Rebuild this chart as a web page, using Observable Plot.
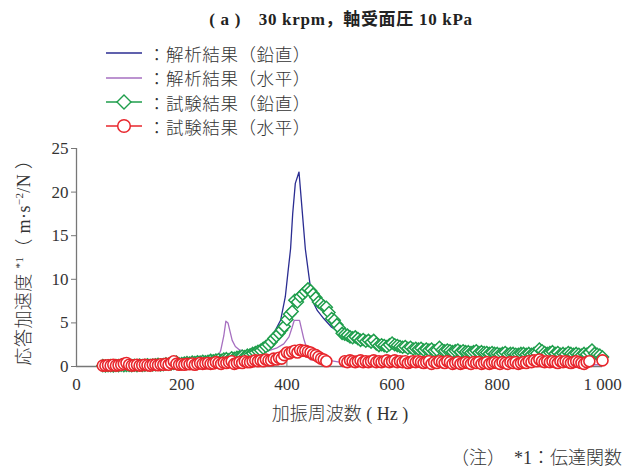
<!DOCTYPE html>
<html><head><meta charset="utf-8">
<script src="https://cdn.jsdelivr.net/npm/d3@7"></script>
<script src="https://cdn.jsdelivr.net/npm/@observablehq/plot@0.6"></script>
<style>
body{margin:0;background:#fff;}
#wrap{position:relative;width:628px;height:470px;overflow:hidden;font-family:"Liberation Serif","Noto Sans CJK JP",serif;color:#333;}
#title{position:absolute;left:27px;width:628px;top:5px;text-align:center;font-weight:bold;font-size:17px;letter-spacing:0.7px;color:#222;white-space:pre;}
#legend{position:absolute;left:104px;top:40px;}
.row{position:absolute;left:0;height:24px;display:flex;align-items:center;white-space:nowrap;font-size:17.5px;letter-spacing:0.6px;font-weight:300;color:#333;}
.row svg{display:block;margin-right:2px;}
#plot{position:absolute;left:0;top:138px;}
#ylabel{position:absolute;left:22px;top:258px;transform:translate(-50%,-50%) rotate(-90deg);white-space:pre;font-size:18px;letter-spacing:0.4px;font-weight:300;color:#333;}
#ylabel sup{font-size:11px;}
#xlabel{position:absolute;left:340px;top:412px;transform:translate(-50%,-50%);white-space:pre;font-size:18px;font-weight:300;color:#333;}
#note{position:absolute;right:6px;top:456px;transform:translateY(-50%);white-space:pre;font-size:18px;font-weight:300;color:#333;}
</style></head><body>
<div id="wrap">
  <div id="title">( a )　30 krpm，軸受面圧 10 kPa</div>
  <div id="legend"></div>
  <div id="plot"></div>
  <div id="ylabel">応答加速度 <sup>*1</sup>（ m·s<sup>−2</sup>/N ）</div>
  <div id="xlabel">加振周波数 ( Hz )</div>
  <div id="note">（注）　*1：伝達関数</div>
</div>
<script>
// ---- data ----
const xTicks = [0, 200, 400, 600, 800, 1000];
const yTicks = [0, 5, 10, 15, 20, 25];
const seriesNames = ["：解析結果（鉛直）", "：解析結果（水平）", "：試験結果（鉛直）", "：試験結果（水平）"];

// analysis, vertical
const anaVHz  = [50,100,150,200,250,280,300,325,350,362,375,388,397,402,407,411,416,423,429,435,442,448,458,470,485,496,510,530,560,597,650,700,750,800,850,900,950,1000];
const anaVVal = [0.05,0.1,0.15,0.25,0.45,0.7,0.9,1.4,2.1,2.8,3.8,5.3,8.0,10.8,13.5,17.5,21.0,22.3,17.9,13.5,10.3,7.6,6.4,5.5,4.5,4.1,3.6,3.1,2.6,2.1,1.8,1.6,1.4,1.3,1.2,1.1,1.0,0.9];

// analysis, horizontal
const anaHHz  = [50,150,250,262,268,274,280,284,288,292,296,302,310,320,335,360,380,394,404,410,414,424,432,438,444,460,480,500,520,600,800,1000];
const anaHVal = [0.05,0.1,0.2,0.5,1.0,1.8,3.5,5.2,5.0,4.0,3.0,2.3,1.9,1.7,1.6,1.7,2.1,2.6,3.4,4.5,5.3,5.3,3.2,2.0,0.8,0.7,0.7,0.5,0.4,0.3,0.25,0.2];

// test, vertical (5 Hz sweep from 50 Hz to 1000 Hz)
const testVHz = d3.range(50, 1001, 5);
const testVVal = [
 0.10,0.05,0.08,0.10,0.05,0.12,0.10,0.15,0.08,0.12,
 0.12,0.10,0.15,0.10,0.18,0.12,0.15,0.20,0.15,0.18,
 0.20,0.25,0.18,0.22,0.30,0.25,0.28,0.35,0.50,0.30,
 0.35,0.40,0.45,0.40,0.50,0.45,0.55,0.50,0.60,0.55,
 0.60,0.70,0.65,0.75,0.80,0.70,0.85,0.90,0.80,1.00,
 0.95,1.05,1.10,1.20,1.15,1.30,1.35,1.50,1.60,1.75,
 1.85,2.10,2.30,2.50,2.80,3.20,3.50,3.80,4.20,4.60,
 5.40,6.00,6.30,7.60,7.40,8.00,8.30,8.60,8.90,8.70,
 8.30,7.90,7.40,7.20,6.90,6.80,6.20,5.50,5.30,4.80,
 4.40,3.80,3.70,3.60,3.40,3.30,3.40,3.20,3.00,3.10,
 2.90,3.00,2.80,3.00,2.60,2.40,2.50,2.40,2.30,2.50,
 2.70,2.50,2.40,2.30,2.20,2.30,2.10,2.20,2.00,2.10,
 2.00,2.10,1.90,2.00,1.90,2.00,1.80,1.90,2.20,1.90,
 1.80,1.90,1.80,1.70,1.80,1.90,1.70,1.80,1.70,1.70,
 1.60,1.70,1.80,1.60,1.70,1.60,1.60,1.50,1.60,1.50,
 1.50,1.40,1.50,1.60,1.40,1.50,1.50,1.40,1.40,1.50,
 1.50,1.40,1.50,1.40,1.50,1.50,2.00,1.80,1.60,1.50,
 1.60,1.70,1.50,1.60,1.40,1.50,1.40,1.60,1.50,1.40,
 1.50,1.40,1.30,1.50,1.40,1.60,1.90,1.50,1.40,1.30,
 1.10];

// test, horizontal (5 Hz sweep, no data 480–505 Hz and 980–995 Hz)
const testHHz = [...d3.range(50, 480, 5), ...d3.range(510, 980, 5), 1000];
const testHVal = [
 0.10,0.10,0.15,0.10,0.20,0.10,0.15,0.20,0.30,0.40,
 0.20,0.10,0.15,0.20,0.10,0.15,0.20,0.15,0.10,0.20,
 0.20,0.15,0.25,0.20,0.30,0.20,0.40,0.60,0.30,0.20,
 0.25,0.20,0.30,0.25,0.35,0.20,0.30,0.40,0.30,0.35,
 0.40,0.30,0.35,0.50,0.40,0.30,0.45,0.40,0.50,0.60,
 0.30,0.40,0.50,0.40,0.60,0.50,0.50,0.60,0.70,0.60,
 0.70,0.60,0.80,0.70,0.70,0.90,0.80,1.00,0.90,1.30,
 1.60,1.50,1.70,1.80,1.60,1.90,1.80,1.80,1.70,1.60,
 1.40,1.30,1.10,0.90,0.80,0.60,
 0.60,0.50,0.70,0.60,0.50,0.60,0.70,0.50,
 0.60,0.50,0.60,0.70,0.50,0.60,0.50,0.60,0.70,0.50,
 0.60,0.70,0.50,0.60,0.50,0.60,0.40,0.50,0.60,0.50,
 0.60,0.50,0.40,0.50,0.60,0.30,0.50,0.40,0.60,0.50,
 0.40,0.60,0.50,0.30,0.40,0.50,0.30,0.40,0.50,0.40,
 0.30,0.50,0.40,0.50,0.30,0.40,0.50,0.30,0.40,0.50,
 0.40,0.30,0.50,0.40,0.30,0.50,0.40,0.50,0.30,0.40,
 0.50,0.40,0.60,0.50,0.70,0.60,0.80,0.60,0.50,0.60,
 0.50,0.60,0.50,0.40,0.60,0.50,0.60,0.50,0.40,0.50,
 0.60,0.50,0.40,0.30,0.50,0.60,
 0.70];

const colors = ["#2b2d92", "#a66fc0", "#1f9e4c", "#e8262c"];

// ---- build tables ----
const zip = (hz, v) => hz.map((h, i) => ({hz: h, v: v[i]})).filter(d => d.v !== undefined);
const anaV = zip(anaVHz, anaVVal);
const anaH = zip(anaHHz, anaHVal);
const testV = zip(testVHz, testVVal);
const testH = zip(testHHz, testHVal);

const fmt = d => d === 1000 ? "1 000" : String(d);

const chart = Plot.plot({
  width: 628, height: 290,
  marginTop: 10, marginBottom: 62, marginLeft: 76, marginRight: 26,
  x: {domain: [0, 1000]},
  y: {domain: [0, 25]},
  style: {fontFamily: "'Liberation Serif', serif", fontSize: "17px", color: "#333", background: "white", overflow: "visible"},
  marks: [
    Plot.axisY({ticks: yTicks, tickSize: 5, tickPadding: 3, label: null, stroke: "#777", fill: "#333"}),
    Plot.axisX({ticks: xTicks, tickSize: 5, dy: -5, tickFormat: () => "", label: null, stroke: "#777"}),
    Plot.axisX({ticks: xTicks, tickSize: 0, tickPadding: 11, tickFormat: fmt, label: null, fill: "#333"}),
    Plot.ruleX([0], {stroke: "#777", strokeWidth: 1.3}),
    Plot.ruleY([0], {stroke: "#777", strokeWidth: 1.3}),
    Plot.line(anaV, {x: "hz", y: "v", stroke: colors[0], strokeWidth: 1.3}),
    Plot.line(anaH, {x: "hz", y: "v", stroke: colors[1], strokeWidth: 1.3}),
    Plot.dot(testV, {x: "hz", y: "v", symbol: "diamond2", r: 5.4, stroke: colors[2], fill: "white", strokeWidth: 1.5}),
    Plot.dot(testH, {x: "hz", y: "v", symbol: "circle", r: 5.5, stroke: colors[3], fill: "white", strokeWidth: 1.6})
  ]
});
document.getElementById("plot").appendChild(chart);

// ---- legend ----
const legend = document.getElementById("legend");
const rowCenters = [13, 37.5, 62, 86];
seriesNames.forEach((name, i) => {
  const row = document.createElement("div");
  row.className = "row";
  row.style.top = (rowCenters[i] - 12) + "px";
  let marker = "";
  if (i === 2) marker = `<path d="M20,5 L27,12 L20,19 L13,12 Z" fill="white" stroke="${colors[i]}" stroke-width="1.4"/>`;
  if (i === 3) marker = `<circle cx="20" cy="12" r="6.3" fill="white" stroke="${colors[i]}" stroke-width="1.5"/>`;
  row.innerHTML = `<svg width="42" height="24"><line x1="2" x2="38" y1="12" y2="12" stroke="${colors[i]}" stroke-width="1.4"/>${marker}</svg><span>${name}</span>`;
  legend.appendChild(row);
});
</script>
</body></html>
